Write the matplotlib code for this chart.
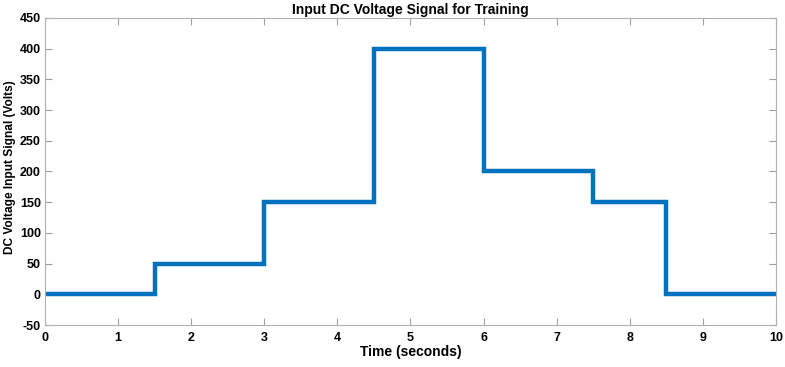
import matplotlib
matplotlib.use("Agg")
import matplotlib.pyplot as plt

times = [0, 1.5, 3, 4.5, 6, 7.5, 8.5, 10]
voltages = [0, 50, 150, 400, 200, 150, 0, 0]
xticks = list(range(0, 11))
yticks = list(range(-50, 451, 50))

plt.rcParams['font.family'] = ['Liberation Sans', 'DejaVu Sans']
plt.rcParams['font.weight'] = 'bold'
plt.rcParams['axes.unicode_minus'] = False

fig = plt.figure(figsize=(7.85, 3.67), dpi=100)
ax = fig.add_axes([0.0573, 0.1144, 0.9312, 0.8366])
ax.step(times, voltages, where='post', color='#0072BD', linewidth=3.2, solid_joinstyle='miter')
ax.set_xlim(0, 10)
ax.set_ylim(-50, 450)
ax.set_xticks(xticks)
ax.set_yticks(yticks)
ax.tick_params(direction='in', top=True, right=True, length=5, width=0.8, color='#a0a0a0',
               labelsize=9)
ax.tick_params(axis='x', pad=5)
ax.tick_params(axis='y', pad=3)
for lab in ax.get_xticklabels() + ax.get_yticklabels():
    lab.set_fontweight('bold')
for s in ax.spines.values():
    s.set_color('#b0b0b0')
    s.set_linewidth(0.8)
ax.set_xlabel('Time (seconds)', fontsize=10, fontweight='bold', labelpad=1)
yl = ax.set_ylabel('DC Voltage Input Signal (Volts)', fontsize=8.6, fontweight='bold')
yl.set_verticalalignment('center')
ax.yaxis.set_label_coords(-0.048, 0.515)
ax.set_title('Input DC Voltage Signal for Training', fontsize=10, fontweight='bold', pad=3)
fig.savefig('out.png', dpi=100)
